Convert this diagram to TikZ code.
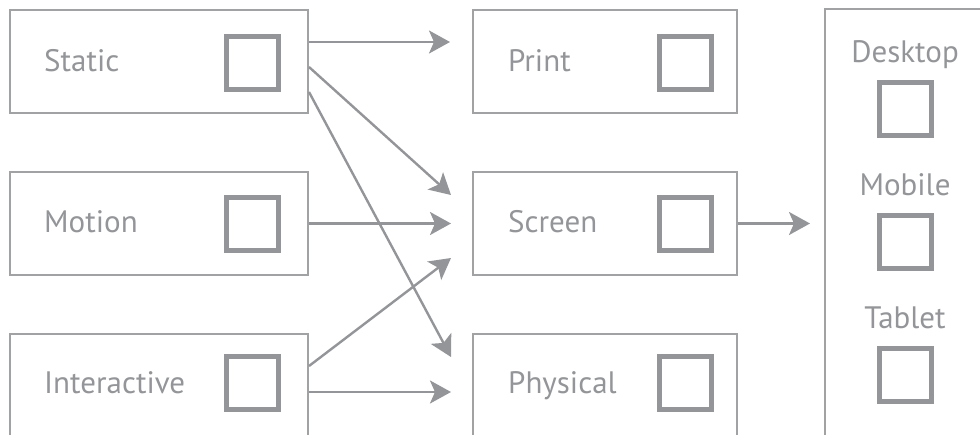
\documentclass[tikz,border=0pt]{standalone}
\usepackage{fontspec}
\setmainfont{PT Sans}
\usetikzlibrary{arrows.meta,calc}
\definecolor{boxgray}{HTML}{A0A2A4}
\definecolor{sqgray}{HTML}{939598}
\definecolor{txtgray}{HTML}{939598}
\tikzset{
  box/.style={draw=boxgray, line width=2pt, rectangle, inner sep=0pt},
  lbox/.style={box, minimum width=298pt, minimum height=103pt},
  mbox/.style={box, minimum width=264pt, minimum height=103pt},
  sq/.style={draw=sqgray, line width=5pt, rectangle, inner sep=0pt, minimum width=52pt, minimum height=53pt},
  lab/.style={text=txtgray, font=\fontsize{31}{34}\selectfont, inner sep=0pt},
  arr/.style={draw=sqgray, line width=2.4pt, -{Stealth[length=21pt, width=23pt, inset=5pt]}},
}
\begin{document}
\begin{tikzpicture}[x=1pt,y=-1pt]
\useasboundingbox (0,0) rectangle (980,434);
\clip (0,0) rectangle (980,434);
% left column
\node[lbox] (static) at (159,61.5) {};
\node[lbox] (motion) at (159,223.5) {};
\node[lbox] (inter) at (159,385.5) {};
\node[sq] (sqs) at (252.5,62.5) {};
\node[sq] (sqm) at (252.5,223.5) {};
\node[sq] (sqi) at (252.5,382.5) {};
\node[lab, anchor=base west] (ts) at (44,71) {Static};
\node[lab, anchor=base west] (tm) at (44,232) {Motion};
\node[lab, anchor=base west] (ti) at (44,393) {Interactive};
% middle column
\node[mbox] (print) at (605,61.5) {};
\node[mbox] (screen) at (605,223.5) {};
\node[mbox] (phys) at (605,385.5) {};
\node[sq] (sqp) at (685,62.5) {};
\node[sq] (sqsc) at (685,223.5) {};
\node[sq] (sqph) at (685,382.5) {};
\node[lab, anchor=base west] (tp) at (508,71) {Print};
\node[lab, anchor=base west] (tsc) at (508,232) {Screen};
\node[lab, anchor=base west] (tph) at (508,393) {Physical};
% right column
\node[box, minimum width=180pt, minimum height=440pt] (dev) at (915,229) {};
\node[lab, anchor=base] (td) at (905,62) {Desktop};
\node[sq] (sqd) at (905,108.5) {};
\node[lab, anchor=base] (tmo) at (905,195) {Mobile};
\node[sq] (sqmo) at (905,241.5) {};
\node[lab, anchor=base] (tt) at (905,328) {Tablet};
\node[sq] (sqt) at (905,375) {};
% arrows
\draw[arr] ($(static.east)+(0,-19.5)$) -- ($(print.west)+(-22,-19.5)$);
\draw[arr] ($(static.east)+(0,5.5)$) -- ($(screen.west)+(-21,-28.5)$);
\draw[arr] ($(static.east)+(0,30.5)$) -- ($(phys.west)+(-21,-28.5)$);
\draw[arr] (motion.east) -- ($(screen.west)+(-21,0)$);
\draw[arr] ($(inter.east)+(0,-19.5)$) -- ($(screen.west)+(-21,34.5)$);
\draw[arr] ($(inter.east)+(0,6.5)$) -- ($(phys.west)+(-21,6.5)$);
\draw[arr] (screen.east) -- ($(dev.west)+(-14,-5.5)$);
\end{tikzpicture}
\end{document}
